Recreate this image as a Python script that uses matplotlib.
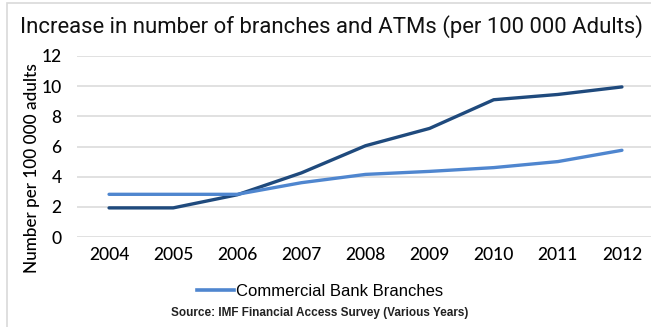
import matplotlib
matplotlib.use("Agg")
import matplotlib.pyplot as plt
from matplotlib.patches import Rectangle
from matplotlib.lines import Line2D

years = ["2004", "2005", "2006", "2007", "2008", "2009", "2010", "2011", "2012"]
atms = [1.93, 1.93, 2.8, 4.25, 6.05, 7.2, 9.1, 9.45, 9.95]
branches = [2.83, 2.83, 2.83, 3.6, 4.15, 4.35, 4.6, 5.0, 5.75]
y_ticks = [0, 2, 4, 6, 8, 10, 12]

title = "Increase in number of branches and ATMs (per 100 000 Adults)"
y_label = "Number per 100 000 adults"
source = "Source: IMF Financial Access Survey (Various Years)"

dark = "#1f4a7d"
light = "#4f86cf"

fig = plt.figure(figsize=(6.51, 3.27), dpi=100)
fig.patch.set_facecolor("white")

# light frame round the chart (cut at right and bottom)
fig.patches.append(Rectangle((7 / 651, -0.1), 1.0, 1 - 3 / 327 + 0.1,
                             transform=fig.transFigure, fill=False,
                             edgecolor="#d9d9d9", linewidth=1.2))

ax = fig.add_axes([77 / 651, (327 - 237) / 327, 577 / 651, 181 / 327])
x = list(range(len(years)))
ax.plot(x, atms, color=dark, linewidth=2.4, solid_capstyle="round", zorder=3)
ax.plot(x, branches, color=light, linewidth=2.4, solid_capstyle="round", zorder=3)

ax.set_xlim(-0.5, len(years) - 0.5)
ax.set_ylim(0, 12)
ax.set_yticks(y_ticks)
ax.set_xticks(x)
ax.set_xticklabels(years)
ax.grid(axis="y", color="#d9d9d9", linewidth=1.1)
ax.set_axisbelow(True)
for s in ax.spines.values():
    s.set_visible(False)
ax.tick_params(length=0, labelsize=12.5, colors="black")
ax.tick_params(axis="y", pad=11)
ax.tick_params(axis="x", pad=7)
for lab in ax.get_xticklabels() + ax.get_yticklabels():
    lab.set_family("Lato")
    lab.set_fontweight("medium")

fig.text(32 / 651, 1 - 168 / 327, y_label, rotation=90, ha="center", va="center",
         fontsize=12.3, family="Lato", fontweight="medium")

fig.text(20 / 651, 1 - 27 / 327, title, ha="left", va="center",
         fontsize=15.9, family="Roboto", color="#111111")

handle = Line2D([0], [0], color=light, linewidth=2.6)
fig.legend([handle], ["Commercial Bank Branches"], loc="center",
           bbox_to_anchor=(320 / 651, 1 - 291 / 327), frameon=False,
           prop={"family": "Liberation Sans", "size": 12},
           handlelength=2.2, handletextpad=0.15)

fig.text(320 / 651, 1 - 313 / 327, source, ha="center", va="center",
         fontsize=8.5, fontweight="bold", family="Liberation Sans", color="#222222")

fig.savefig("out.png", dpi=100)
